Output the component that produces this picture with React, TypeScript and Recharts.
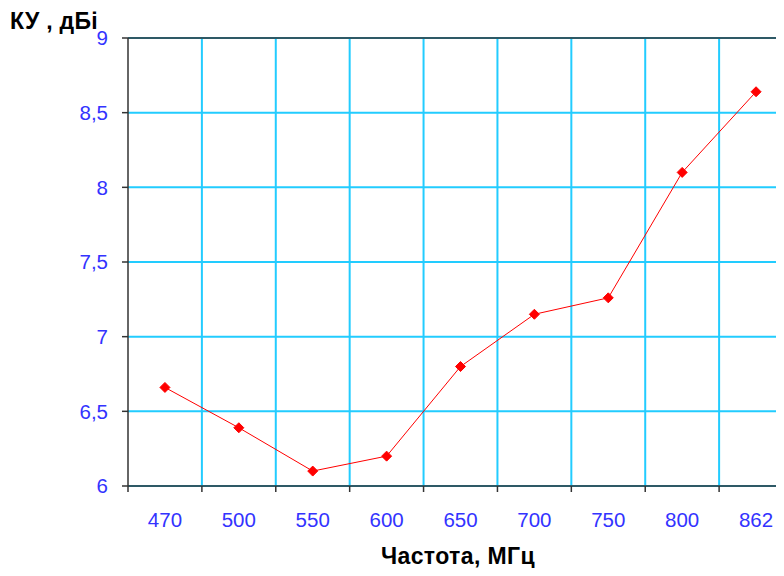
import React from "react";
import { ComposedChart, Line, XAxis, YAxis, CartesianGrid, ReferenceLine } from "recharts";

const categories = ["470", "500", "550", "600", "650", "700", "750", "800", "862"];
const gainValues = [6.66, 6.39, 6.1, 6.2, 6.8, 7.15, 7.26, 8.1, 8.64];
const yTicks = [6, 6.5, 7, 7.5, 8, 8.5, 9];
const yTitle = "КУ , дБі";
const xTitle = "Частота, МГц";

const data = categories.map((c, i) => ({ pos: i + 0.5, label: c, value: gainValues[i] }));
const boundaries = categories.map((_, i) => i).concat([categories.length]);
const xTicks: number[] = [];
boundaries.forEach((b) => {
  xTicks.push(b);
  if (b < categories.length) xTicks.push(b + 0.5);
});

const BLUE = "#3333ff";
const CYAN = "#22ccff";
const AXIS = "#333333";
const FONT = "'Liberation Sans', Arial, sans-serif";

const XTick = (props: any) => {
  const { x, y, payload } = props;
  const v = payload.value as number;
  if (Number.isInteger(v)) {
    return <line x1={x} x2={x} y1={y - 26} y2={y - 20} stroke={AXIS} strokeWidth={1.5} />;
  }
  const idx = Math.floor(v);
  return (
    <text x={x} y={y} dy="0.71em" textAnchor="middle" fill={BLUE} fontSize={20.5} fontFamily={FONT}>
      {categories[idx]}
    </text>
  );
};

const Diamond = (props: any) => {
  const { cx, cy } = props;
  if (cx == null || cy == null) return null;
  const r = 5;
  return <path d={`M${cx},${cy - r}L${cx + r},${cy}L${cx},${cy + r}L${cx - r},${cy}Z`} fill="#ff0000" stroke="#ff0000" />;
};

export default function App() {
  return (
    <div style={{ width: 784, height: 576, overflow: "hidden", margin: -8, position: "relative", background: "#fff" }}>
      <ComposedChart
        width={800}
        height={576}
        data={data}
        margin={{ top: 38, right: 7, bottom: 0, left: 0 }}
        style={{ fontFamily: FONT }}
      >
        <CartesianGrid vertical={false} stroke={CYAN} strokeWidth={2} />
        {boundaries.slice(1, -1).map((b) => (
          <ReferenceLine key={b} x={b} stroke={CYAN} strokeWidth={2} />
        ))}
        <ReferenceLine y={9} stroke={AXIS} strokeWidth={1.5} />
        <XAxis
          dataKey="pos"
          type="number"
          domain={[0, categories.length]}
          ticks={xTicks}
          interval={0}
          tickLine={false}
          tickSize={6}
          tickMargin={20}
          tick={<XTick />}
          axisLine={{ stroke: AXIS, strokeWidth: 1.5 }}
          height={90}
          allowDataOverflow
        />
        <YAxis
          type="number"
          domain={[6, 9]}
          ticks={yTicks}
          interval={0}
          width={128}
          tickSize={6}
          tickMargin={14}
          tickFormatter={(v: number) => String(v).replace(".", ",")}
          tick={{ fill: BLUE, fontSize: 20.5, fontFamily: FONT }}
          tickLine={{ stroke: AXIS, strokeWidth: 1.5 }}
          axisLine={{ stroke: AXIS, strokeWidth: 1.5 }}
        />
        <Line
          dataKey="value"
          stroke="#ff0000"
          strokeWidth={1}
          dot={<Diamond />}
          activeDot={false}
          isAnimationActive={false}
        />
      </ComposedChart>
      <div style={{ position: "absolute", left: 10, top: 8, fontFamily: FONT, fontWeight: "bold", fontSize: 23, letterSpacing: 0.3, color: "#000" }}>
        {yTitle}
      </div>
      <div style={{ position: "absolute", left: 128, width: 660, top: 543, textAlign: "center", fontFamily: FONT, fontWeight: "bold", fontSize: 23, letterSpacing: 0.4, color: "#000" }}>
        {xTitle}
      </div>
    </div>
  );
}
